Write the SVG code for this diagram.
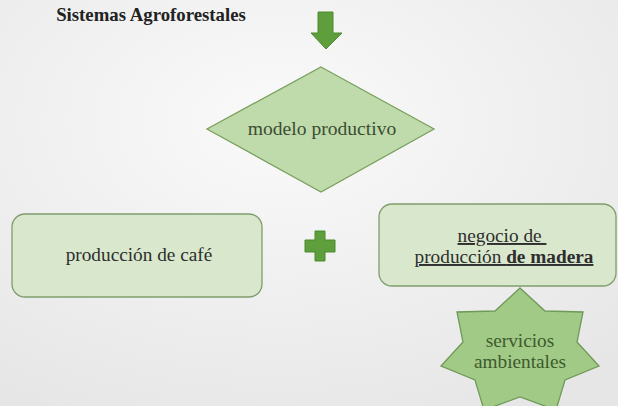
<svg xmlns="http://www.w3.org/2000/svg" width="618" height="406" viewBox="0 0 618 406">
<defs>
<radialGradient id="bg" cx="0.45" cy="0.3" r="0.8">
<stop offset="0" stop-color="#fafafa"/>
<stop offset="1" stop-color="#e6e6e6"/>
</radialGradient>
<style>
.box{fill:#d9e8cd;stroke:#7f9d6c;stroke-width:1.3}
.grn{fill:#5f9e3d;stroke:#4d8a2f;stroke-width:1}
</style>
</defs>
<rect width="618" height="406" fill="url(#bg)"/>
<g font-family="'Liberation Serif', 'Times New Roman', serif" font-size="19.3" text-anchor="middle">
<text id="title" x="151" y="21" font-size="18.8" font-weight="bold" fill="#222">Sistemas Agroforestales</text>
<g id="connectors">
<path class="grn" d="M318,12 H333 V33 H342 L326,49 L311,33 H318 Z"/>
<path class="grn" d="M315,231 H325 V240 H335 V252 H325 V261 H315 V252 H305 V240 H315 Z"/>
</g>
<g id="modelo">
<polygon points="321,67 434,129 321,192 207,129" fill="#c0dbab" stroke="#7aa15e" stroke-width="1.3"/>
<text x="322" y="135" font-size="19.6" fill="#3c4d32">modelo productivo</text>
</g>
<g id="cafe">
<rect class="box" x="12" y="214" width="250" height="83" rx="13"/>
<text x="139" y="261" fill="#2e2e2e">producción de café</text>
</g>
<g id="madera">
<rect class="box" x="379" y="204" width="237" height="82" rx="13"/>
<text x="502" y="242" fill="#2e2e2e" text-decoration="underline" xml:space="preserve">negocio de </text>
<text x="504" y="263" fill="#2e2e2e" text-decoration="underline">producción <tspan font-weight="bold">de madera</tspan></text>
</g>
<g id="servicios">
<polygon points="520,288 545,311 583,312 577,342 599,366 565,380 556,410 520,397 484,410 475,380 441,366 463,342 457,312 495,311" fill="#a1ca87" stroke="#6f9957" stroke-width="1.3"/>
<text x="520" y="347" fill="#3e5a2c">servicios</text>
<text x="520" y="368" fill="#3e5a2c">ambientales</text>
</g>
</g>
</svg>
